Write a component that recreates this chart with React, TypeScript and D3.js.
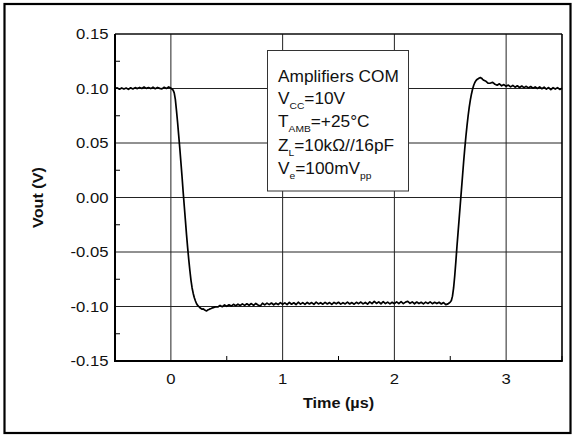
import React from 'react';
import * as d3 from 'd3';

// ---------- data (Vout in mV) ----------
const segStartUs = [-0.5, 0.01, 0.42, 2.49, 2.82];
const segStepUs = [0.02, 0.01, 0.02, 0.01, 0.02];

const highBeforeMv = [
  100.0, 100.6, 99.3, 100.5, 99.5, 100.4, 99.2, 100.7, 99.6, 100.8,
  99.9, 101.0, 100.0, 101.3, 100.1, 100.9, 99.9, 101.2, 99.8, 101.0,
  100.1, 99.7, 101.1, 100.0, 101.4, 100.4,
];
const fallMv = [
  99.5, 98.5, 96.0, 90.0, 80.0, 69.0, 57.0, 45.0, 32.0, 19.0,
  5.0, -8.0, -21.0, -34.0, -46.0, -57.0, -67.0, -76.0, -83.0, -88.0,
  -92.0, -95.0, -97.5, -99.0, -100.0, -101.2, -101.9, -102.5, -102.2, -103.0,
  -103.6, -104.0, -103.2, -102.8, -102.2, -101.8, -101.3, -101.0, -100.6, -100.3,
];
const lowMv = [
  -100.4, -99.0, -100.2, -98.6, -99.8, -98.4, -99.6, -98.0, -99.3, -97.9,
  -99.1, -97.6, -99.0, -97.5, -98.8, -97.3, -98.9, -97.2, -98.6, -99.6,
  -97.0, -98.5, -96.9, -98.3, -96.8, -98.4, -97.0, -98.2, -96.4, -98.0,
  -96.7, -98.3, -96.3, -97.9, -96.6, -98.2, -96.1, -97.8, -96.5, -98.1,
  -96.3, -97.7, -96.4, -98.0, -96.0, -97.6, -96.5, -97.9, -96.2, -97.7,
  -96.4, -98.0, -96.3, -97.5, -96.1, -97.8, -96.5, -97.6, -96.0, -97.7,
  -96.4, -97.9, -96.2, -97.4, -95.9, -97.6, -96.3, -97.8, -95.8, -97.4,
  -95.3, -97.2, -95.8, -97.5, -95.5, -97.3, -96.0, -97.6, -96.1, -97.4,
  -95.8, -97.3, -95.6, -97.4, -96.0, -95.2, -97.1, -95.8, -97.5, -95.9,
  -97.3, -96.1, -97.6, -96.0, -97.2, -95.8, -97.4, -96.2, -97.3, -96.1,
  -97.7, -96.4, -98.3, -97.6,
];
const riseMv = [
  -96.8, -96.0, -94.5, -90.5, -83.0, -72.0, -59.0, -45.0, -32.0, -19.0,
  -6.0, 7.0, 20.0, 33.0, 45.0, 56.0, 66.0, 75.0, 83.0, 89.5,
  95.0, 99.5, 103.0, 105.5, 107.2, 108.3, 109.0, 109.6, 110.0, 109.5,
  108.4, 107.5,
];
const highAfterMv = [
  106.6, 104.8, 105.0, 105.6, 103.9, 103.0, 104.3, 102.5, 103.6, 102.0,
  103.1, 101.5, 102.8, 101.2, 102.5, 100.9, 102.3, 100.8, 102.0, 100.5,
  101.8, 100.3, 101.5, 100.0, 101.4, 99.8, 101.2, 99.4, 100.9, 99.0,
  100.7, 99.5, 100.8, 99.2, 100.2,
];
const segValuesMv = [highBeforeMv, fallMv, lowMv, riseMv, highAfterMv];

const xTickValues = [0, 1, 2, 3];
const xTickLabels = ['0', '1', '2', '3'];
const xMinorValues = [-0.5, 0.5, 1.5, 2.5, 3.5];
const yTickValues = [0.15, 0.1, 0.05, 0, -0.05, -0.1, -0.15];
const yTickLabels = ['0.15', '0.10', '0.05', '0.00', '-0.05', '-0.10', '-0.15'];
const yMinorValues = [0.125, 0.075, 0.025, -0.025, -0.075, -0.125];

const xTitle = 'Time (µs)';
const yTitle = 'Vout (V)';

// ---------- layout ----------
const W = 574;
const H = 436;
const L = 115, R = 562, T = 34, B = 361;
const FONT = '"Liberation Sans", Arial, Helvetica, sans-serif';

const points: [number, number][] = [];
segValuesMv.forEach((vals, i) => {
  vals.forEach((v, k) => {
    points.push([segStartUs[i] + k * segStepUs[i], v / 1000]);
  });
});

function SText({ x, y, sx = 1.15, size = 14.5, anchor = 'start', weight = 'normal', rotate = 0, children }: any) {
  return (
    <text
      transform={`translate(${x},${y}) rotate(${rotate}) scale(${sx},1)`}
      textAnchor={anchor}
      fontFamily={FONT}
      fontSize={size}
      fontWeight={weight}
      fill="#111"
    >
      {children}
    </text>
  );
}

export default function App() {
  const x = d3.scaleLinear().domain([-0.5, 3.5]).range([L, R]);
  const y = d3.scaleLinear().domain([-0.15, 0.15]).range([B, T]);
  const line = d3.line<[number, number]>().x((d) => x(d[0])).y((d) => y(d[1]));

  const legX = 278;
  const legBase = [82, 104, 127, 151, 174];
  const sub = { fontSize: 9.5 } as any;

  return (
    <svg width={W} height={H} style={{ position: 'absolute', left: 0, top: 0, background: '#fff' }}>
      <rect x={0} y={0} width={W} height={H} fill="#fff" />
      {/* outer frame */}
      <rect x={4.5} y={4} width={566} height={429} fill="none" stroke="#000" strokeWidth={2.2} />

      {/* grid */}
      {xTickValues.map((v) => (
        <line key={'gx' + v} x1={x(v)} x2={x(v)} y1={T} y2={B} stroke="#222" strokeWidth={1} />
      ))}
      {yTickValues.map((v) => (
        <line key={'gy' + v} x1={L} x2={R} y1={y(v)} y2={y(v)} stroke="#222" strokeWidth={1} />
      ))}

      {/* minor ticks (inward) */}
      {xMinorValues.map((v) => (
        <line key={'mx' + v} x1={x(v)} x2={x(v)} y1={B} y2={B - 5} stroke="#000" strokeWidth={1} />
      ))}
      {yMinorValues.map((v) => (
        <line key={'my' + v} x1={L} x2={L + 5} y1={y(v)} y2={y(v)} stroke="#000" strokeWidth={1} />
      ))}

      {/* plot frame */}
      <line x1={L} x2={R} y1={T} y2={T} stroke="#000" strokeWidth={1.2} />
      <line x1={R} x2={R} y1={T} y2={B} stroke="#000" strokeWidth={1.6} />
      <line x1={L} x2={L} y1={T} y2={B + 1} stroke="#000" strokeWidth={2} />
      <line x1={L - 1} x2={R + 0.8} y1={B} y2={B} stroke="#000" strokeWidth={2} />

      {/* legend box */}
      <rect x={267.5} y={50.5} width={141} height={140.5} fill="#fff" stroke="#333" strokeWidth={1} />
      <SText x={legX} y={legBase[0]} size={16} sx={1.08}>Amplifiers COM</SText>
      <SText x={legX} y={legBase[1]} size={16} sx={1.08}>
        V<tspan dy={5} style={sub}>CC</tspan><tspan dy={-5}>=10V</tspan>
      </SText>
      <SText x={legX} y={legBase[2]} size={16} sx={1.08}>
        T<tspan dy={5} style={sub}>AMB</tspan><tspan dy={-5}>=+25°C</tspan>
      </SText>
      <SText x={legX} y={legBase[3]} size={16} sx={1.08}>
        Z<tspan dy={5} style={sub}>L</tspan><tspan dy={-5}>=10kΩ//16pF</tspan>
      </SText>
      <SText x={legX} y={legBase[4]} size={16} sx={1.08}>
        V<tspan dy={5} style={sub}>e</tspan><tspan dy={-5}>=100mV</tspan><tspan dy={5} style={sub}>pp</tspan>
      </SText>

      {/* trace */}
      <path d={line(points) || ''} fill="none" stroke="#000" strokeWidth={1.7} strokeLinejoin="round" />

      {/* tick labels */}
      {yTickValues.map((v, i) => (
        <SText key={'ly' + v} x={108.5} y={y(v) + 5.2} anchor="end">{yTickLabels[i]}</SText>
      ))}
      {xTickValues.map((v, i) => (
        <SText key={'lx' + v} x={x(v)} y={384} anchor="middle">{xTickLabels[i]}</SText>
      ))}

      {/* axis titles */}
      <SText x={338.5} y={408} anchor="middle" weight="bold" size={14.5} sx={1.12}>{xTitle}</SText>
      <SText x={43} y={(T + B) / 2} anchor="middle" weight="bold" size={14.5} sx={1.12} rotate={-90}>{yTitle}</SText>
    </svg>
  );
}
